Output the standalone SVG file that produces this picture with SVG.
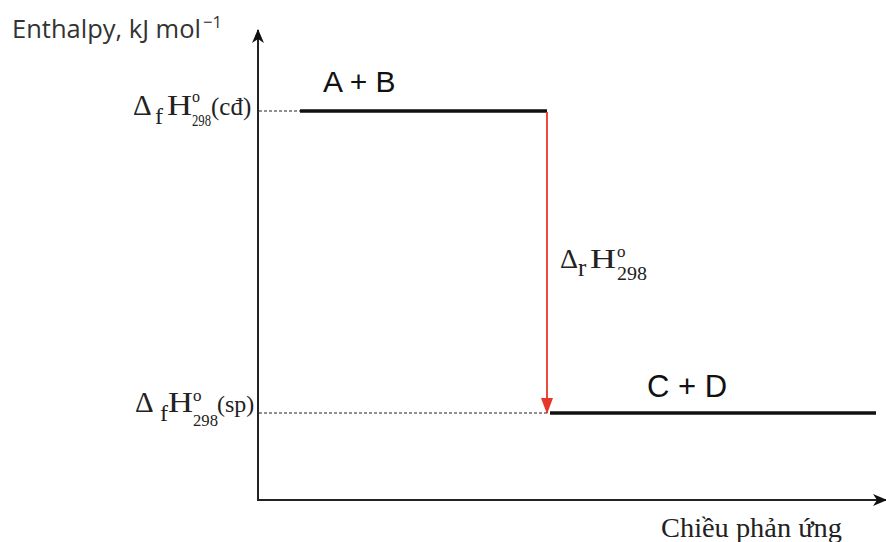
<svg xmlns="http://www.w3.org/2000/svg" width="886" height="542" viewBox="0 0 886 542">
<style>
.ax{stroke:#222;stroke-width:2;fill:none}
.lvl{stroke:#111;stroke-width:3.5;fill:none}
.dot{stroke:#222;stroke-width:1.2;stroke-dasharray:3,2;fill:none}
.ser{font-family:"Liberation Serif","DejaVu Serif",serif;fill:#222}
.san{font-family:"Liberation Sans",Arial,sans-serif;fill:#111}
</style>
<defs>
<marker id="ah" markerWidth="14" markerHeight="12" refX="13" refY="6" orient="auto" markerUnits="userSpaceOnUse">
<path d="M0,0 L14,6 L0,12 L4,6 Z" fill="#111"/>
</marker>
<marker id="ahr" markerWidth="16" markerHeight="12" refX="15" refY="6" orient="auto" markerUnits="userSpaceOnUse">
<path d="M0,0 L16,6 L0,12 Z" fill="#e8372a"/>
</marker>
</defs>
<g id="axes">
<line class="ax" x1="258" y1="500" x2="258" y2="30" marker-end="url(#ah)"/>
<line class="ax" x1="257" y1="500" x2="886" y2="500" marker-end="url(#ah)"/>
<text x="12" y="38" font-family="'Open Sans','Noto Sans',sans-serif" font-size="26" fill="#333" textLength="189" lengthAdjust="spacingAndGlyphs">Enthalpy, kJ mol</text>
<text x="203" y="28" font-family="'Open Sans','Noto Sans',sans-serif" font-size="17" fill="#333" textLength="19" lengthAdjust="spacingAndGlyphs">−1</text>
<text class="ser" x="661" y="537" font-size="27" textLength="181" lengthAdjust="spacingAndGlyphs">Chiều phản ứng</text>
</g>
<g id="reactants">
<line class="lvl" x1="300" y1="111" x2="547" y2="111"/>
<text class="san" x="323" y="92" font-size="30">A + B</text>
<text class="ser" font-size="29"><tspan x="133" y="115">Δ</tspan><tspan x="155" y="124" font-size="24">f</tspan><tspan x="167" y="115" textLength="25" lengthAdjust="spacingAndGlyphs">H</tspan><tspan x="192" y="102" font-size="16">o</tspan><tspan x="192" y="126" font-size="16" textLength="19" lengthAdjust="spacingAndGlyphs">298</tspan><tspan x="211" y="115" font-size="25">(cđ)</tspan></text>
</g>
<g id="products">
<line class="lvl" x1="550" y1="413" x2="876" y2="413"/>
<text class="san" x="647" y="397" font-size="31">C + D</text>
<text class="ser" font-size="29"><tspan x="135" y="412">Δ</tspan><tspan x="160" y="421" font-size="24">f</tspan><tspan x="168" y="412" textLength="25" lengthAdjust="spacingAndGlyphs">H</tspan><tspan x="193" y="401" font-size="17">o</tspan><tspan x="193" y="426" font-size="17" textLength="25" lengthAdjust="spacingAndGlyphs">298</tspan><tspan x="217" y="412" font-size="24">(sp)</tspan></text>
</g>
<g id="connectors">
<line class="dot" x1="259" y1="111" x2="300" y2="111"/>
<line class="dot" x1="259" y1="413" x2="549" y2="413"/>
<line x1="547" y1="112" x2="547" y2="413" stroke="#e8372a" stroke-width="1.8" marker-end="url(#ahr)"/>
<text class="ser" font-size="28"><tspan x="560" y="268">Δ</tspan><tspan x="578" y="276" font-size="25">r</tspan><tspan x="590" y="268" textLength="26" lengthAdjust="spacingAndGlyphs">H</tspan><tspan x="617" y="257" font-size="17">o</tspan><tspan x="617" y="280" font-size="18" textLength="30" lengthAdjust="spacingAndGlyphs">298</tspan></text>
</g>
</svg>
